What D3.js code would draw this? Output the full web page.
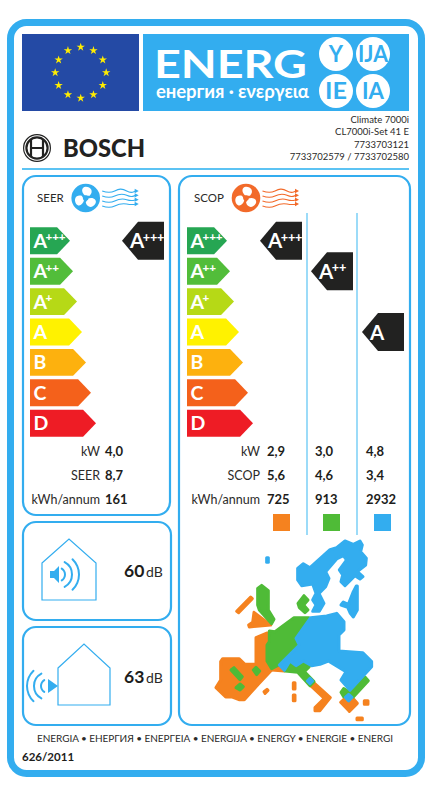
<!DOCTYPE html>
<html><head><meta charset="utf-8">
<style>html,body{margin:0;padding:0;background:#fff}svg{display:block}text{font-family:Lato,"Open Sans",sans-serif;font-variant-ligatures:none;font-feature-settings:"liga" 0,"calt" 0,"kern" 1}</style>
<script src="https://cdn.jsdelivr.net/npm/d3@7/dist/d3.min.js"></script>
</head><body>
<script>
const classes = ["A+++","A++","A+","A","B","C","D"];
const classColors = ["#26a653","#52bd3a","#b6d916","#fff200","#fdb10e","#f4611b","#ee1c25"];
const classLengths = [40,43,47,52,56,61,66];
const seerRowLabels = ["kW","SEER","kWh/annum"];
const scopRowLabels = ["kW","SCOP","kWh/annum"];
const seerValues = ["4,0","8,7","161"];
const seerClass = "A+++";
const scopValues = [["2,9","5,6","725"],["3,0","4,6","913"],["4,8","3,4","2932"]];
const scopClasses = ["A+++","A++","A"];
const zoneColors = ["#f5821f","#4fbb37","#33adef"];
const noiseValues = [60,63];
const modelLines = ["Climate 7000i","CL7000i-Set 41 E","7733703121","7733702579 / 7733702580"];
const languages = ["ENERGIA","ЕНЕРГИЯ","ΕΝΕΡΓΕΙΑ","ENERGIJA","ENERGY","ENERGIE","ENERGI"];
const badges = ["Y","IJA","IE","IA"];

const BLUE="#33adef", LIGHT="#5cc3f3", DARK="#222221", TXT="#2b2a29", ORANGE="#f26a2a";
const svg=d3.select("body").append("svg").attr("width",432).attr("height",787);
function T(x,y,s,size,o={}){return svg.append("text").attr("x",x).attr("y",y).text(s).attr("font-size",size)
  .attr("fill",o.fill||TXT).attr("font-weight",o.w||400).attr("text-anchor",o.a||"start");}

// frame
svg.append("rect").attr("x",10.5).attr("y",22.5).attr("width",411).attr("height",751).attr("rx",16).attr("fill","#fff").attr("stroke",BLUE).attr("stroke-width",7);

// flag
svg.append("rect").attr("x",22).attr("y",34).attr("width",117).attr("height",77).attr("fill","#244aa5");
const starPath=d3.symbol(d3.symbolStar,22)();
d3.range(12).forEach(i=>{const a=i*Math.PI/6;
  svg.append("path").attr("d",starPath).attr("fill","#ffed00").attr("transform",`translate(${80.7+25.5*Math.sin(a)},${72.6-25.5*Math.cos(a)})`);});

// energy band
svg.append("rect").attr("x",143).attr("y",34).attr("width",266).attr("height",77).attr("fill",BLUE);
T(154,78,"ENERG",39,{fill:"#fff",w:700}).attr("textLength",153).attr("lengthAdjust","spacingAndGlyphs");
T(156,98,"енергия · ενεργεια",18.5,{fill:"#fff",w:700}).attr("textLength",153).attr("lengthAdjust","spacing");
const badgeX=d3.scalePoint().domain([0,1]).range([336,373]);
const badgeY=d3.scalePoint().domain([0,1]).range([54,91]);
badges.forEach((b,i)=>{const x=badgeX(i%2),y=badgeY(i>>1);
  svg.append("circle").attr("cx",x).attr("cy",y).attr("r",17).attr("fill","#fff");
  const t=T(x,y+8,b,22,{fill:BLUE,w:700,a:"middle"});
  if(b.length>1) t.attr("textLength",b.length>2?30:22).attr("lengthAdjust","spacingAndGlyphs");
});

// model lines
const modelY=d3.scalePoint().domain(d3.range(modelLines.length)).range([123,160]);
modelLines.forEach((s,i)=>T(409,modelY(i),s,9.5,{a:"end"}));

// bosch
const lg=svg.append("g").attr("transform","translate(37,148)").attr("fill","none").attr("stroke",DARK);
lg.append("circle").attr("r",13.4).attr("stroke-width",1.2);
lg.append("circle").attr("r",10.6).attr("stroke-width",2.2);
lg.append("path").attr("d","M-6,-9V9M6,-9V9M-6,0H6").attr("stroke-width",2.2);
T(63,157,"BOSCH",24.5,{fill:DARK,w:900}).attr("textLength",82).attr("lengthAdjust","spacingAndGlyphs");
svg.append("rect").attr("x",22).attr("y",168).attr("width",387).attr("height",2).attr("fill",LIGHT);

// panels
[[23,176,147,339],[179,176,231,549],[23,522,148,98],[23,627,148,98]].forEach(p=>
  svg.append("rect").attr("x",p[0]).attr("y",p[1]).attr("width",p[2]).attr("height",p[3]).attr("rx",13).attr("fill","#fff").attr("stroke",BLUE).attr("stroke-width",2.2));

// fan icon
function fan(cx,cy,col){
  const g=svg.append("g").attr("transform",`translate(${cx},${cy})`);
  g.append("circle").attr("r",14.3).attr("fill",col);
  [10,130,250].forEach(r=>g.append("path").attr("d","M-1,-2C-6,-5 -6,-10 -2,-11C3,-12 7,-8 3.5,-3Z").attr("fill","#fff").attr("transform",`rotate(${r})`));
  g.append("circle").attr("r",2.8).attr("fill",col);
  const wave=d3.scaleLinear().domain([0,3]).range([cy-7,cy+8]);
  const head=d3.scaleLinear().domain([0,3]).range([cy-7,cy+6]);
  [0,1,2,3].forEach(i=>{
    const y=wave(i),e=head(i);
    svg.append("path").attr("d",`M${cx+16.5},${y}C${cx+22},${y+2} ${cx+25},${y+2} ${cx+29},${y}S${cx+36},${y-3} ${cx+41},${e}S${cx+47},${e+1} ${cx+50},${e}`)
      .attr("fill","none").attr("stroke",col).attr("stroke-width",1.1);
    svg.append("path").attr("d",`M${cx+49},${e-2.2}L${cx+53},${e}L${cx+49},${e+2.2}Z`).attr("fill",col);
  });
}
T(37,202,"SEER",11.5); fan(85.7,198,BLUE);
T(194,202,"SCOP",11.5); fan(246,198,ORANGE);

// class bars
const rowY=d3.scaleBand().domain(classes).range([225.6,438.4]).paddingInner(0.115).paddingOuter(0.057);
const len=d3.scaleOrdinal(classes,classLengths);
const col=d3.scaleOrdinal(classes,classColors);
function classLabel(c,x,y,size,supRatio){
  const t=svg.append("text").attr("x",x).attr("y",y).attr("font-size",size).attr("font-weight",700).attr("fill","#fff").text(c[0]);
  const sup=c.slice(1);
  if(sup) t.append("tspan").attr("font-size",size*supRatio).attr("font-weight",900).attr("dy",-size*0.33).attr("dx",-1.5).attr("letter-spacing",-0.2).text(sup);
}
function scale(x0){
  svg.append("g").selectAll("path").data(classes).join("path")
    .attr("fill",d=>col(d))
    .attr("d",d=>{const y=rowY(d),h=rowY.bandwidth(),w=len(d),a=h*0.48;
      return d3.line()([[x0,y],[x0+w-a,y],[x0+w,y+h/2],[x0+w-a,y+h],[x0,y+h]])+"Z";});
  classes.forEach(c=>classLabel(c,x0+3.5,rowY(c)+rowY.bandwidth()/2+7,19.5,0.6));
}
scale(30); scale(187);

// black tags
function tag(right,c){
  const cy=rowY(c)+rowY.bandwidth()/2;
  svg.append("path").attr("fill",DARK).attr("d",d3.line()([[right-42,cy],[right-26,cy-19],[right,cy-19],[right,cy+19],[right-26,cy+19]])+"Z");
  classLabel(c,right-34,cy+7.5,20.5,0.62);
}
tag(164,seerClass);
scopClasses.forEach((c,i)=>tag(d3.scaleLinear().domain([0,2]).range([302,404])(i),c));

// dividers
[307,357].forEach(x=>svg.append("rect").attr("x",x-0.6).attr("y",213).attr("width",1.2).attr("height",322).attr("fill",LIGHT));

// values
const valueY=d3.scalePoint().domain([0,1,2]).range([456,504]);
seerRowLabels.forEach((s,i)=>{T(100,valueY(i),s,12.5,{a:"end"});T(105,valueY(i),seerValues[i],13,{w:700,fill:"#1d1d1b"});});
scopRowLabels.forEach((s,i)=>T(260,valueY(i),s,12.5,{a:"end"}));
const colX=[267,315,366];
scopValues.forEach((v,c)=>v.forEach((s,i)=>T(colX[c],valueY(i),s,13,{w:700,fill:"#1d1d1b"})));
[273,323,374].forEach((x,i)=>svg.append("rect").attr("x",x).attr("y",514).attr("width",17).attr("height",17).attr("fill",zoneColors[i]));

// noise panels
function waves(cx,cy,dir,rs){
  rs.forEach(r=>{const a=d3.arc().innerRadius(r-1).outerRadius(r+1).startAngle(Math.PI/2-Math.min(1.15,18/r)).endAngle(Math.PI/2+Math.min(1.15,18/r)).cornerRadius(1)();
    svg.append("path").attr("d",a).attr("fill",BLUE).attr("transform",`translate(${cx},${cy}) scale(${dir},1)`);});
}
svg.append("path").attr("fill","none").attr("stroke",BLUE).attr("stroke-width",1.2).attr("d","M42,563L69,539L96,563V600H42Z");
svg.append("path").attr("fill",BLUE).attr("d","M50,571H54L59,566V583L54,578H50Z");
waves(58,574.5,1,[7,14,21]);
svg.append("path").attr("fill","none").attr("stroke",BLUE).attr("stroke-width",1.2).attr("d","M58,668L84,644L110,668V705H58Z");
svg.append("path").attr("fill",BLUE).attr("d","M48,679L58,686L48,693Z");
waves(48,686,-1,[7,14,21]);
[577,683].forEach((y,i)=>{
  T(124,y,noiseValues[i],17.5,{w:700,fill:"#1d1d1b"});T(146,y,"dB",14);});

// map (illustration, in 3x zoomed coordinates)
const mp=svg.append("g").attr("transform","translate(190,535) scale(0.3333)");
function poly(pts,c){mp.append("path").attr("d",d3.line().curve(d3.curveLinearClosed)(pts)).attr("fill",c).attr("stroke",c).attr("stroke-width",9).attr("stroke-linejoin","round");}
const [O,G,B]=zoneColors;
// orange
poly([[92,380],[98,371],[147,371],[165,388],[198,388],[198,308],[232,294],[232,380],[245,405],[205,448],[163,494],[147,494],[127,486],[107,486],[78,458],[92,435]],O);
poly([[140,229],[182,186],[187,191],[146,233]],O);
poly([[192,232],[242,270],[178,276],[176,270],[188,262]],O);
poly([[245,405],[262,395],[283,408]],O);
poly([[222,470],[231,463],[234,466],[225,475]],O);
poly([[310,443],[315,443],[315,462],[310,462]],O);
poly([[310,480],[315,480],[315,497],[310,497]],O);
poly([[372,444],[421,488],[390,527],[375,527],[375,518],[403,490],[362,452]],O);
poly([[452,502],[464,491],[476,505],[490,491],[502,505],[478,529]],O);
poly([[523,497],[534,497],[534,508],[523,508]],O);
poly([[501,549],[517,549],[517,554],[501,554]],O);
// green
poly([[203,160],[215,151],[235,167],[235,225],[252,253],[245,266],[208,225],[203,210]],G);
poly([[324,205],[342,182],[354,195],[341,210],[354,225],[345,233],[328,218]],G);
poly([[238,288],[255,290],[312,248],[357,248],[312,310],[322,330],[262,392],[245,401],[231,378],[231,330],[238,320]],G);
poly([[300,378],[318,392],[340,378],[358,395],[343,410],[372,440],[360,452],[323,412],[285,408]],G);
poly([[525,426],[535,437],[490,486],[477,470],[461,485],[453,472],[461,461],[480,472]],G);
poly([[123,405],[132,398],[157,425],[150,434]],G);
poly([[190,405],[198,397],[209,408],[200,419]],G);
poly([[138,458],[150,447],[160,455],[150,465]],G);
// blue
poly([[323,100],[340,86],[360,98],[420,44],[440,38],[465,18],[490,28],[510,18],[517,30],[512,50],[529,70],[527,90],[502,110],[519,125],[510,132],[495,122],[465,152],[453,140],[458,120],[448,105],[470,75],[460,62],[440,72],[407,110],[417,130],[407,155],[387,175],[402,205],[388,229],[368,229],[378,210],[368,195],[378,175],[368,147],[335,152],[323,135]],B);
poly([[499,153],[502,153],[502,225],[490,246],[481,235],[473,217],[453,210],[460,201],[475,208],[490,170]],B);
poly([[362,248],[410,243],[440,235],[462,260],[462,285],[447,300],[447,348],[518,353],[545,380],[545,395],[480,466],[453,435],[468,410],[415,378],[390,388],[365,392],[340,378],[318,392],[300,378],[283,406],[268,390],[328,330],[318,310]],B);
poly([[360,430],[368,438],[360,446],[352,438]],B);
poly([[476,478],[486,487],[476,498],[466,487]],B);
poly([[230,68],[235,68],[235,82],[230,82]],B);

// footer
T(37,742,languages.join(" • "),10).attr("textLength",356).attr("lengthAdjust","spacing");
T(22,761,"626/2011",11.5,{w:700,fill:"#1d1d1b"});
</script>
</body></html>
